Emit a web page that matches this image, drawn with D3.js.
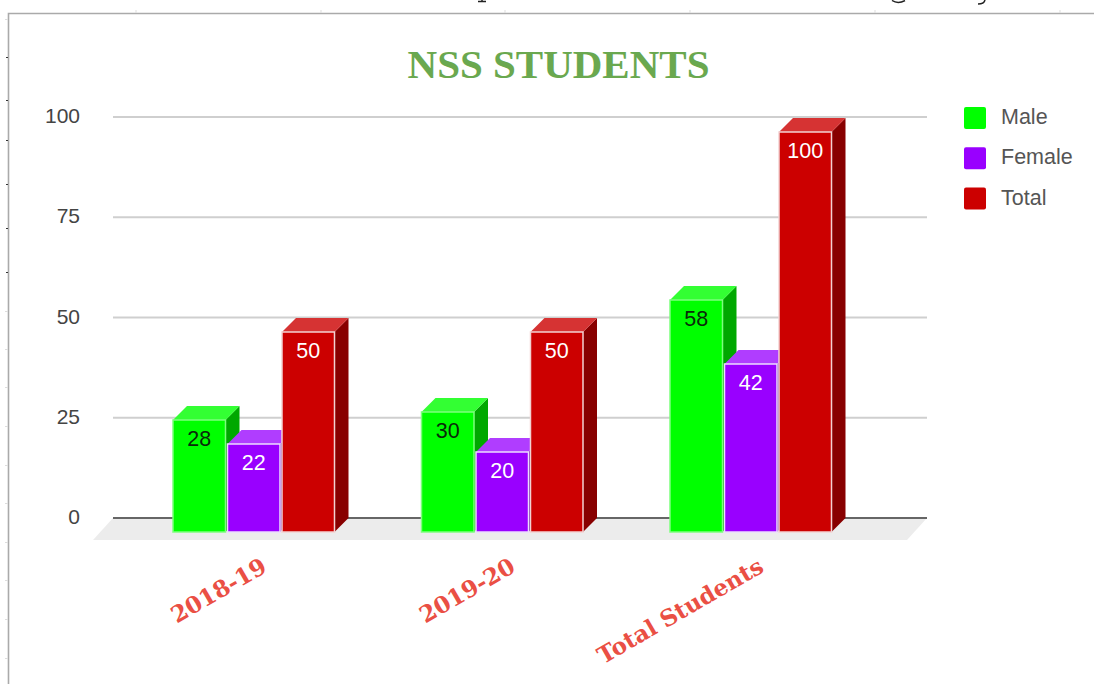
<!DOCTYPE html>
<html>
<head>
<meta charset="utf-8">
<script src="https://cdn.jsdelivr.net/npm/d3@7"></script>
<style>
html,body{margin:0;padding:0;background:#fff;overflow:hidden}
svg{display:block}
</style>
</head>
<body>
<svg id="chart" width="1094" height="684"></svg>
<script>
const categories = ["2018-19", "2019-20", "Total Students"];
const seriesNames = ["Male", "Female", "Total"];
const maleValues = [28, 30, 58];
const femaleValues = [22, 20, 42];
const totalValues = [50, 50, 100];
const yTicks = [0, 25, 50, 75, 100];
const titleText = "NSS STUDENTS";
const topTicks = [136, 321, 505, 690, 875, 1060];
const leftTicksDark = [57, 100, 140, 184, 228, 272];
const leftTicksLight = [19, 311, 349, 387, 426, 465, 503, 542, 580, 619, 658];

const seriesValues = [maleValues, femaleValues, totalValues];
const palette = {
  Male:   {front:"#00ff00", top:"#33ff33", side:"#00a800", label:"#0a2a0a", edge:"#7dff7d"},
  Female: {front:"#9900ff", top:"#b03dff", side:"#6600aa", label:"#ffffff", edge:"#ecdcff"},
  Total:  {front:"#cc0000", top:"#d63333", side:"#880000", label:"#ffffff", edge:"#f3d2d2"}
};

const svg = d3.select("#chart");
const depth = 14;
const y = d3.scaleLinear().domain([0, 100]).range([518, 117]);
const yFront = d3.scaleLinear().domain([0, 100]).range([532, 132]);
const x0 = d3.scaleBand().domain(categories).range([130, 875.5]).paddingInner(0).paddingOuter(0);
const x1 = d3.scaleBand().domain(seriesNames).range([43, 206.5]).padding(0);
const barW = x1.bandwidth() - 2;

// page frame behind the chart
const frame = svg.append("g");
frame.append("path").attr("d", "M8.5,684V13.5H1094").attr("fill", "none").attr("stroke", "#aaa").attr("stroke-width", 1.6);
frame.selectAll(".tt").data(topTicks).join("line")
  .attr("x1", d => d).attr("x2", d => d).attr("y1", 10).attr("y2", 13).attr("stroke", "#ddd");
frame.selectAll(".ld").data(leftTicksDark).join("line")
  .attr("x1", 6).attr("x2", 8).attr("y1", d => d + .5).attr("y2", d => d + .5).attr("stroke", "#333");
frame.selectAll(".ll").data(leftTicksLight).join("line")
  .attr("x1", 5).attr("x2", 8).attr("y1", d => d + .5).attr("y2", d => d + .5).attr("stroke", "#ddd");
// slivers of the page content cut off above the chart
frame.append("path")
  .attr("d", "M478,1.5H486M482,0V1.5M892,0.5Q898,4.5 905,0.5M985,0Q984,4 978,4")
  .attr("fill", "none").attr("stroke", "#222").attr("stroke-width", 1.5);

// title
svg.append("text").attr("x", 558.5).attr("y", 78).attr("text-anchor", "middle")
  .attr("font-family", "'Liberation Serif', serif").attr("font-weight", "bold").attr("font-size", 41)
  .attr("fill", "#6aa84f").text(titleText);

// grid
svg.append("g").selectAll("line").data(yTicks.filter(d => d > 0)).join("line")
  .attr("x1", 113).attr("x2", 927).attr("y1", d => y(d)).attr("y2", d => y(d))
  .attr("stroke", "#cfcfcf").attr("stroke-width", 2);

// floor
svg.append("polygon")
  .attr("points", [[113, y(0)], [927, y(0)], [907, 540], [93, 540]].map(p => p.join(",")).join(" "))
  .attr("fill", "#ececec");
svg.append("line").attr("x1", 113).attr("x2", 927).attr("y1", y(0)).attr("y2", y(0))
  .attr("stroke", "#666").attr("stroke-width", 2);

// y axis labels
svg.append("g").selectAll("text").data(yTicks).join("text")
  .attr("x", 80).attr("y", d => y(d) + 6).attr("text-anchor", "end")
  .attr("font-family", "'Liberation Sans', Arial, sans-serif").attr("font-size", 21)
  .attr("fill", "#444").text(d => d);

// bars
categories.forEach((cat, ci) => {
  const g = svg.append("g");
  seriesNames.forEach((name, si) => {
    const v = seriesValues[si][ci];
    const c = palette[name];
    const bx = x0(cat) + x1(name);
    const top = yFront(v);
    const bottom = yFront(0);
    g.append("polygon")
      .attr("points", [[bx + barW, top], [bx + barW + depth, top - depth], [bx + barW + depth, bottom - depth], [bx + barW, bottom]].map(p => p.join(",")).join(" "))
      .attr("fill", c.side);
    g.append("polygon")
      .attr("points", [[bx, top], [bx + depth, top - depth], [bx + barW + depth, top - depth], [bx + barW, top]].map(p => p.join(",")).join(" "))
      .attr("fill", c.top);
    g.append("rect").attr("x", bx).attr("y", top).attr("width", barW).attr("height", bottom - top)
      .attr("fill", c.front).attr("stroke", c.edge).attr("stroke-width", 1.5);
    g.append("text").attr("x", bx + barW / 2).attr("y", top + 26).attr("text-anchor", "middle")
      .attr("font-family", "'Liberation Sans', Arial, sans-serif").attr("font-size", 21.5)
      .attr("fill", c.label).text(v);
  });
});

// category labels
svg.append("g").selectAll("text").data(categories).join("text")
  .attr("transform", d => `translate(${x0(d) + x0.bandwidth() / 2 + 14},571) rotate(-30)`)
  .attr("text-anchor", "end")
  .attr("font-family", "'DejaVu Serif', serif").attr("font-weight", "bold").attr("font-size", 23)
  .attr("fill", "#ea4f44").text(d => d);

// legend
const legend = svg.append("g").selectAll("g").data(seriesNames).join("g")
  .attr("transform", (d, i) => `translate(964,${107 + i * 40.3})`);
legend.append("rect").attr("width", 22).attr("height", 22).attr("rx", 2).attr("fill", d => palette[d].front);
legend.append("text").attr("x", 37).attr("y", 17)
  .attr("font-family", "'Liberation Sans', Arial, sans-serif").attr("font-size", 21.5)
  .attr("fill", "#555").text(d => d);
</script>
</body>
</html>
